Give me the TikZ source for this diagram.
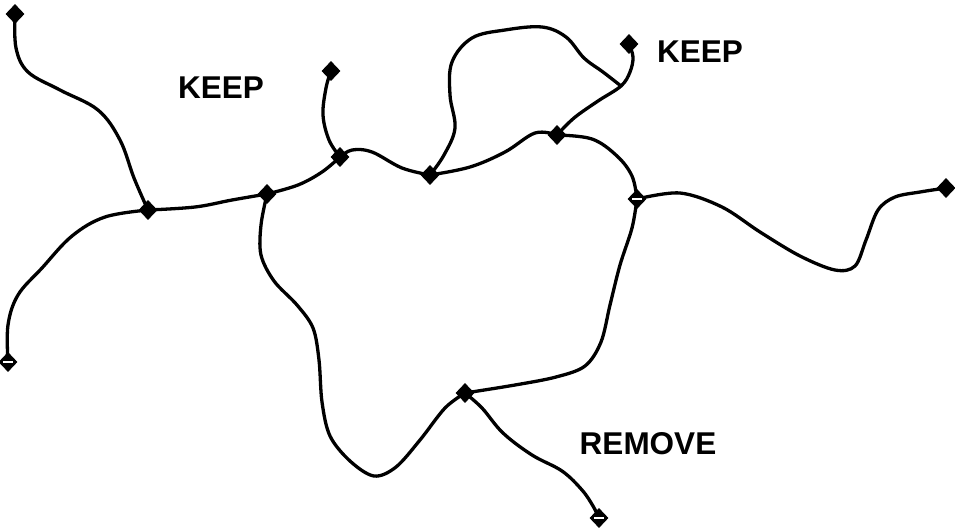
\documentclass[tikz,border=0pt]{standalone}
\usepackage{fontspec}
\setmainfont{Liberation Sans}
\usetikzlibrary{shapes.geometric}
\begin{document}
\begin{tikzpicture}[x=1pt,y=-1pt,
  wire/.style={line width=3.3pt,line cap=round,line join=round},
  vtx/.style={diamond,fill=black,draw=black,line width=0.8pt,inner sep=0pt,minimum width=18pt,minimum height=19pt},
  vtxo/.style={vtx,path picture={\draw[white,line width=1.5pt] ([xshift=-5pt]path picture bounding box.center) -- ([xshift=5pt]path picture bounding box.center);}},
  lbl/.style={font=\fontsize{31.5}{33}\selectfont\bfseries,inner sep=0pt}]
\useasboundingbox (0,0) rectangle (955,528);
% vertex positions
\coordinate (A) at (15,14);
\coordinate (B) at (148,210);
\coordinate (C) at (8,362);
\coordinate (D) at (267,194);
\coordinate (E) at (331,71);
\coordinate (F) at (340,157);
\coordinate (G) at (430,175);
\coordinate (H) at (557,135);
\coordinate (I) at (629,44);
\coordinate (X) at (621,86);
\coordinate (J) at (637,199);
\coordinate (K) at (946,188);
\coordinate (L) at (465,393);
\coordinate (M) at (599,518);
% connectors
\draw[wire] plot[smooth,tension=0.6] coordinates {(A) (16,48) (28,72) (60,90) (98,110) (120,140) (134,178) (B)};
\draw[wire] plot[smooth,tension=0.6] coordinates {(C) (8,325) (18,295) (42,268) (72,236) (105,217) (B)};
\draw[wire] plot[smooth,tension=0.6] coordinates {(B) (195,207) (232,200) (D)};
\draw[wire] plot[smooth,tension=0.6] coordinates {(D) (298,185) (322,172) (F)};
\draw[wire] plot[smooth,tension=0.6] coordinates {(E) (326,88) (323,115) (329,140) (F)};
\draw[wire] plot[smooth,tension=0.6] coordinates {(F) (352,150) (372,152) (402,168) (G)};
\draw[wire] plot[smooth,tension=0.6] coordinates {(G) (470,167) (505,152) (535,133) (H)};
\draw[wire] plot[smooth,tension=0.6] coordinates {(G) (444,155) (455,128) (450,95) (452,62) (472,38) (505,30) (542,27) (566,37) (584,58) (603,72) (X)};
\draw[wire] plot[smooth,tension=0.6] coordinates {(I) (633,57) (630,72) (X) (598,101) (574,118) (H)};
\draw[wire] plot[smooth,tension=0.6] coordinates {(H) (592,139) (617,156) (632,176) (J)};
\draw[wire] plot[smooth,tension=0.55] coordinates {(J) (680,193) (722,207) (760,232) (800,256) (835,270) (855,266) (866,240) (878,210) (895,197) (920,192) (K)};
\draw[wire] plot[smooth,tension=0.55] coordinates {(J) (632,228) (620,265) (610,305) (601,342) (585,366) (556,377) (515,385) (L)};
\draw[wire] plot[smooth,tension=0.6] coordinates {(L) (482,408) (503,433) (532,455) (562,471) (582,490) (593,506) (M)};
\draw[wire] plot[smooth,tension=0.55] coordinates {(L) (445,408) (420,440) (396,467) (374,476) (350,461) (330,436) (322,402) (319,360) (313,328) (297,305) (274,281) (261,255) (261,225) (D)};
% vertices
\node[vtx]  (nA) at (A) {};
\node[vtx]  (nB) at (B) {};
\node[vtxo] (nC) at (C) {};
\node[vtx]  (nD) at (D) {};
\node[vtx]  (nE) at (E) {};
\node[vtx]  (nF) at (F) {};
\node[vtx]  (nG) at (G) {};
\node[vtx]  (nH) at (H) {};
\node[vtx]  (nI) at (I) {};
\node[vtxo] (nJ) at (J) {};
\node[vtx]  (nK) at (K) {};
\node[vtx]  (nL) at (L) {};
\node[vtxo] (nM) at (M) {};
% labels
\node[lbl] (keep1) at (221,88) {KEEP};
\node[lbl] (keep2) at (700,52) {KEEP};
\node[lbl] (remove) at (648,444) {REMOVE};
\end{tikzpicture}
\end{document}
